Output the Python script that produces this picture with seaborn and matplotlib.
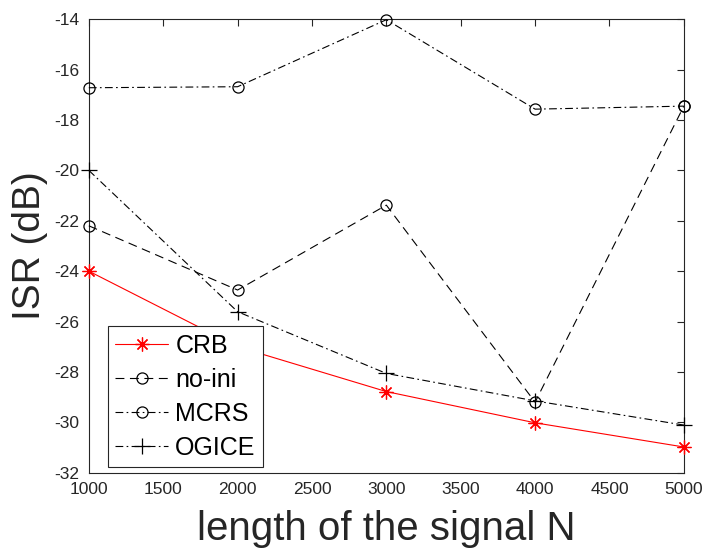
import numpy as np
import pandas as pd
import seaborn as sns
import matplotlib
matplotlib.use("Agg")
import matplotlib.pyplot as plt

N = [1000, 2000, 3000, 4000, 5000]
crb = [-24.0, -27.0, -28.78, -30.02, -30.98]
no_ini = [-22.2, -24.75, -21.38, -29.2, -17.45]
mcrs = [-16.72, -16.68, -14.02, -17.57, -17.45]
ogice = [-20.0, -25.61, -28.06, -29.15, -30.11]

xticks = [1000, 1500, 2000, 2500, 3000, 3500, 4000, 4500, 5000]
yticks = [-32, -30, -28, -26, -24, -22, -20, -18, -16, -14]

sns.set_style("white")
plt.rcParams['font.family'] = ['Liberation Sans', 'DejaVu Sans']

fig = plt.figure(figsize=(7.05, 5.49), dpi=100)
ax = fig.add_axes([0.126, 0.139, 0.844, 0.826])

txt = '#262626'
dashdot = (0, (7, 3, 1.5, 3))
sns.lineplot(x=N, y=crb, ax=ax, color='red', linestyle='-', marker=(8, 2, 0),
             markersize=10, markeredgecolor='red', markeredgewidth=0.9, linewidth=0.8,
             label='CRB', clip_on=False, zorder=5)
sns.lineplot(x=N, y=no_ini, ax=ax, color='black', linestyle=(0, (8, 5)), marker='o',
             markersize=8, markerfacecolor='none', markeredgecolor='black', markeredgewidth=0.9,
             linewidth=0.8, label='no-ini', clip_on=False)
sns.lineplot(x=N, y=mcrs, ax=ax, color='black', linestyle=dashdot, marker='o',
             markersize=8, markerfacecolor='none', markeredgecolor='black', markeredgewidth=0.9,
             linewidth=0.8, label='MCRS', clip_on=False)
sns.lineplot(x=N, y=ogice, ax=ax, color='black', linestyle=dashdot, marker='+',
             markersize=11, markeredgecolor='black', markeredgewidth=0.9,
             linewidth=0.8, label='OGICE', clip_on=False)

ax.set_xlim(1000, 5000)
ax.set_ylim(-32, -14)
ax.set_xticks(xticks)
ax.set_yticks(yticks)
ax.set_xticklabels([str(v) for v in xticks])
ax.set_yticklabels([str(v) for v in yticks])
ax.tick_params(axis='both', direction='in', length=5, width=0.8, colors=txt,
               labelsize=12.5, top=True, right=True, pad=7)
for s in ax.spines.values():
    s.set_visible(True)
    s.set_color(txt)
    s.set_linewidth(0.8)
    s.set_zorder(1)

ax.set_xlabel('length of the signal N', fontsize=29, color=txt, labelpad=9)
ax.set_ylabel('ISR (dB)', fontsize=28, color=txt, labelpad=4)

leg = ax.legend(loc='lower left', bbox_to_anchor=(0.032, 0.012), borderaxespad=0,
                fontsize=18, fancybox=False, frameon=True, labelspacing=0.4,
                handlelength=2.1, handletextpad=0.3, borderpad=0.3)
leg.get_frame().set_edgecolor(txt)
leg.get_frame().set_linewidth(0.8)
leg.get_frame().set_alpha(1)
leg.set_zorder(10)
for t in leg.get_texts():
    t.set_color('black')

fig.savefig('out.png', dpi=100, facecolor='white')
